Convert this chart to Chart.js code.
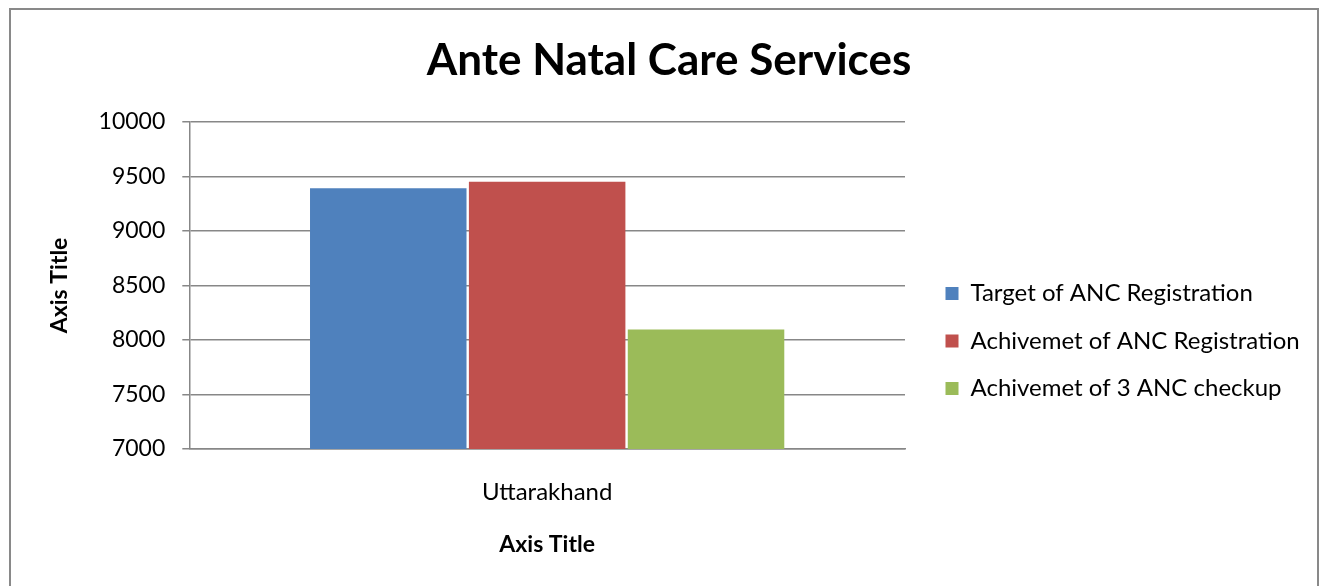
<!DOCTYPE html>
<html>
<head>
<meta charset="utf-8">
<title>Ante Natal Care Services</title>
<script src="https://cdn.jsdelivr.net/npm/chart.js@4"></script>
<style>
  html, body { margin: 0; padding: 0; background: #fff; overflow: hidden; }
  #frame {
    position: absolute; left: 9px; top: 8px; width: 1306px; height: 600px;
    border: 2px solid #898989;
  }
  #wrap { position: absolute; left: 0; top: 0; width: 1321px; height: 586px; }
</style>
</head>
<body>
<div id="frame"></div>
<div id="wrap"><canvas id="ancChart"></canvas></div>
<script>
// data
const categories = ["Uttarakhand"];
const seriesNames = [
  "Target of ANC Registration",
  "Achivemet of ANC Registration",
  "Achivemet of 3 ANC checkup"
];
const targetRegistration = [9390];
const achievedRegistration = [9450];
const achieved3Checkup = [8095];
const seriesColors = ["#4F81BD", "#C0504D", "#9BBB59"];
const yTicks = [7000, 7500, 8000, 8500, 9000, 9500, 10000];

const gridGray = "#878787";
const baseFont = "Lato, 'Liberation Sans', sans-serif";
const legendFontSize = 24;
const legendPad = 23.5;
const legendBox = 13;
const legendSlot = 396; // room kept for the legend on the right

const seriesValues = [targetRegistration, achievedRegistration, achieved3Checkup];

const datasets = seriesNames.map((name, i) => ({
  label: name,
  data: seriesValues[i],
  backgroundColor: seriesColors[i],
  borderWidth: 0,
  categoryPercentage: 0.666,
  barPercentage: 0.985
}));

// the legend is as wide as its longest label; pad the right side so it
// still starts where the reference legend starts
const measureCtx = document.createElement("canvas").getContext("2d");
measureCtx.font = legendFontSize + "px " + baseFont;
const widestLabel = Math.max(...seriesNames.map(n => measureCtx.measureText(n).width));
const legendW = legendPad + legendBox + legendFontSize / 2 + widestLabel + 10;
const extra = Math.max(0, Math.min(legendSlot - legendW, 20));

new Chart(document.getElementById("ancChart").getContext("2d"), {
  type: "bar",
  data: { labels: categories, datasets: datasets },
  options: {
    responsive: true,
    maintainAspectRatio: false,
    animation: false,
    layout: { padding: { left: 20 + extra, top: 0, right: 3 + extra, bottom: 20 } },
    plugins: {
      tooltip: { enabled: false },
      title: {
        display: true,
        text: "Ante Natal Care Services",
        color: "#000",
        font: { family: baseFont, size: 44, weight: "bold" },
        padding: { top: 34, bottom: 35 }
      },
      legend: {
        position: "right",
        fullSize: false,
        maxWidth: legendSlot,
        title: { display: true, text: " ", font: { size: 1 }, padding: { top: 110, bottom: 0 } },
        labels: {
          boxWidth: legendBox,
          boxHeight: legendBox,
          padding: legendPad,
          color: "#000",
          font: { family: baseFont, size: legendFontSize }
        }
      }
    },
    scales: {
      x: {
        grid: { display: false, drawTicks: false },
        border: { display: true, color: gridGray, width: 1.5 },
        ticks: { color: "#000", padding: 29, font: { family: baseFont, size: 24 } },
        title: {
          display: true,
          text: "Axis Title",
          color: "#000",
          font: { family: baseFont, size: 23, weight: "bold" },
          padding: { top: -5.4, bottom: 8 }
        }
      },
      y: {
        min: yTicks[0],
        max: yTicks[yTicks.length - 1],
        afterBuildTicks: scale => { scale.ticks = yTicks.map(v => ({ value: v })); },
        grid: { color: gridGray, lineWidth: 1.5, tickLength: 7 },
        border: { display: true, color: gridGray, width: 1.5 },
        ticks: {
          color: "#000",
          padding: 17,
          font: { family: baseFont, size: 23 },
          callback: v => String(v)
        },
        title: {
          display: true,
          text: "Axis Title",
          color: "#000",
          font: { family: baseFont, size: 23, weight: "bold" },
          padding: { top: 26 - extra, bottom: 8 }
        }
      },
      gap: {
        position: "right",
        display: true,
        grid: { display: false, drawTicks: false },
        border: { display: false },
        ticks: { display: false },
        afterFit: scale => { scale.width = 17; }
      }
    }
  }
});
</script>
</body>
</html>
